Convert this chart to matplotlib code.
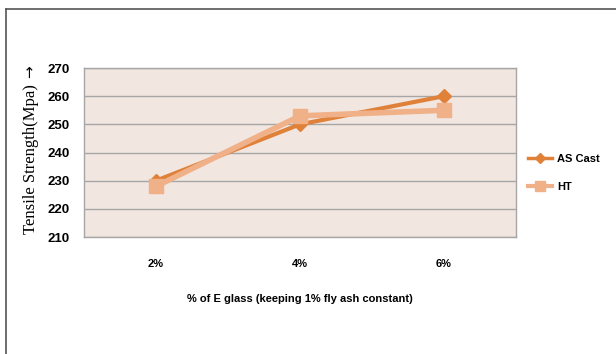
import matplotlib
matplotlib.use("Agg")
import matplotlib.pyplot as plt
from matplotlib.lines import Line2D

categories = ["2%", "4%", "6%"]
as_cast = [230, 250, 260]
ht = [228, 253, 255]
y_ticks = [210, 220, 230, 240, 250, 260, 270]

W, H = 616, 354
fig = plt.figure(figsize=(W / 100, H / 100), dpi=100)
fig.patch.set_facecolor("white")

# outer frame (top and left edges)
fig.add_artist(Line2D([6 / W, 1.0], [1 - 9 / H, 1 - 9 / H], color="#555555", lw=1.2))
fig.add_artist(Line2D([6 / W, 6 / W], [0, 1 - 9 / H], color="#555555", lw=1.2))

left, right, top, bottom = 84, 516, 68, 237
ax = fig.add_axes([left / W, 1 - bottom / H, (right - left) / W, (bottom - top) / H])
ax.set_facecolor("#F2E6E0")

x = range(len(categories))
ax.plot(x, as_cast, color="#E0813A", lw=3.0, marker="D", ms=7,
        label="AS Cast", zorder=3)
ax.plot(x, ht, color="#F0B088", lw=4, marker="s", ms=10,
        label="HT", zorder=4)

ax.set_xlim(-0.5, 2.5)
ax.set_ylim(210, 270)
ax.set_yticks(y_ticks)
ax.set_xticks(list(x))
ax.set_xticklabels(categories)
ax.yaxis.grid(True, color="#A6A6A6", lw=1.0)
ax.set_axisbelow(True)
ax.tick_params(length=0)
for lbl in ax.get_yticklabels():
    lbl.set_fontfamily("Liberation Sans")
    lbl.set_fontweight("bold")
    lbl.set_fontsize(9.5)
for lbl in ax.get_xticklabels():
    lbl.set_fontfamily("Liberation Sans")
    lbl.set_fontweight("bold")
    lbl.set_fontsize(8)
ax.tick_params(axis="y", pad=10)
ax.tick_params(axis="x", pad=16)
for s in ax.spines.values():
    s.set_color("#A6A6A6")
    s.set_linewidth(1.0)

# y-axis title with an upward arrow above it
fig.text(31 / W, 1 - 159 / H, "Tensile Strength(Mpa)", family="Liberation Serif",
         fontsize=12, rotation=90, ha="center", va="center")
fig.text(30 / W, 1 - 72 / H, "\u2192", family="DejaVu Sans",
         fontsize=11, rotation=90, ha="center", va="center")

ax.set_xlabel("% of E glass (keeping 1% fly ash constant)", family="Liberation Sans",
              fontweight="bold", fontsize=8, labelpad=18)

handles = [
    Line2D([], [], color="#E0813A", lw=2.5, marker="D", ms=5),
    Line2D([], [], color="#F0B088", lw=3, marker="s", ms=7),
]
fig.legend(handles, ["AS Cast", "HT"], loc="center left",
           bbox_to_anchor=(518 / W, 1 - 173 / H),
           frameon=False, handlelength=2.2, handletextpad=0.4, labelspacing=1.6,
           prop={"family": "Liberation Sans", "weight": "bold", "size": 8})

fig.savefig("out.png", dpi=100)
